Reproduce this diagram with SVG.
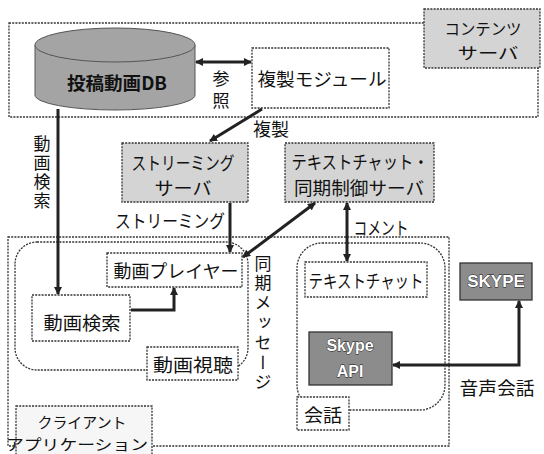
<svg xmlns="http://www.w3.org/2000/svg" width="544" height="454" viewBox="0 0 544 454">
<defs>
<marker id="ah" markerWidth="8" markerHeight="8" refX="7" refY="4" orient="auto-start-reverse" markerUnits="userSpaceOnUse">
<path d="M0,0 L8,4 L0,8 Z" fill="#222"/>
</marker>
<style>
text{font-family:"Noto Sans CJK JP","Noto Sans",sans-serif;font-size:18px;fill:#111;text-anchor:middle;dominant-baseline:central}
.v{writing-mode:vertical-rl;font-size:17px}
.s{font-size:16px}
.xs{font-size:15px}
.dot{fill:none;stroke:#333;stroke-width:1.3;stroke-dasharray:2 1.2}
.box{fill:#fff;stroke:#333;stroke-width:1.3;stroke-dasharray:2 1.2}
.lgray{fill:#d4d4d4;stroke:#333;stroke-width:1.3;stroke-dasharray:2 1.2}
.dgray{fill:#8c8c8c;stroke:#333;stroke-width:1.3}
.arr{fill:none;stroke:#222;stroke-width:3}
.en{font-family:"Liberation Sans",Arial,sans-serif;font-weight:bold;fill:#fff;stroke:#111;stroke-width:0.8;paint-order:stroke}
</style>
</defs>

<g id="content-server">
<rect class="dot" x="9" y="23" width="529" height="94"/>
<rect class="lgray" x="424" y="9" width="116" height="59"/>
<text class="s" x="483" y="28" textLength="77" lengthAdjust="spacingAndGlyphs">コンテンツ</text>
<text class="s" x="488" y="52" textLength="61" lengthAdjust="spacingAndGlyphs">サーバ</text>
</g>

<g id="client-app">
<rect class="dot" x="8" y="237" width="441" height="209"/>
<rect class="box" x="16" y="406" width="136" height="50" style="fill:#f6f6f6"/>
<text class="xs" x="82" y="421" textLength="89" lengthAdjust="spacingAndGlyphs">クライアント</text>
<text class="xs" x="77" y="443" textLength="142" lengthAdjust="spacingAndGlyphs">アプリケーション</text>
</g>

<g id="db">
<path d="M35,45 L35,95 A80,15 0 0 0 195,95 L195,45" fill="#a4a4a4" stroke="#555" stroke-width="1"/>
<ellipse cx="115" cy="45" rx="80" ry="17" fill="#a4a4a4" stroke="#555" stroke-width="1"/>
<text x="117" y="82" style="font-weight:bold" textLength="100" lengthAdjust="spacingAndGlyphs">投稿動画DB</text>
</g>

<g id="replica-module">
<rect class="box" x="252" y="48" width="137" height="60"/>
<text x="322" y="78" textLength="129" lengthAdjust="spacingAndGlyphs">複製モジュール</text>
</g>

<g id="streaming-server">
<rect class="lgray" x="122" y="143" width="126" height="59"/>
<text x="183" y="162" textLength="103" lengthAdjust="spacingAndGlyphs">ストリーミング</text>
<text x="183" y="187" textLength="57" lengthAdjust="spacingAndGlyphs">サーバ</text>
</g>

<g id="sync-server">
<rect class="lgray" x="285" y="143" width="149" height="59"/>
<text x="360" y="161" textLength="137" lengthAdjust="spacingAndGlyphs">テキストチャット・</text>
<text x="359" y="187" textLength="130" lengthAdjust="spacingAndGlyphs">同期制御サーバ</text>
</g>

<g id="viewing">
<rect class="dot" x="15" y="242" width="233" height="128" rx="22" ry="22"/>
<rect class="box" x="147" y="347" width="91" height="33"/>
<text x="193" y="364" textLength="80" lengthAdjust="spacingAndGlyphs">動画視聴</text>
</g>

<g id="player">
<rect class="box" x="107" y="253" width="135" height="34"/>
<text x="176" y="270" textLength="125" lengthAdjust="spacingAndGlyphs">動画プレイヤー</text>
</g>

<g id="search">
<rect class="box" x="32" y="295" width="98" height="46"/>
<text x="82" y="322" textLength="77" lengthAdjust="spacingAndGlyphs">動画検索</text>
</g>

<g id="conversation">
<rect class="dot" x="297" y="243" width="148" height="167" rx="25" ry="25"/>
<rect class="box" x="297" y="397" width="52" height="33"/>
<text x="323" y="414" textLength="38" lengthAdjust="spacingAndGlyphs">会話</text>
</g>

<g id="textchat">
<rect class="box" x="305" y="262" width="122" height="35"/>
<text x="366" y="280" textLength="115" lengthAdjust="spacingAndGlyphs">テキストチャット</text>
</g>

<g id="skype-api">
<rect class="dgray" x="309" y="332" width="83" height="53"/>
<text class="en" x="350" y="345" style="font-size:16px">Skype</text>
<text class="en" x="350" y="371" style="font-size:16px">API</text>
</g>

<g id="skype">
<rect class="dgray" x="460" y="263" width="72" height="37"/>
<text class="en" x="496" y="281" style="font-size:17px">SKYPE</text>
</g>

<g id="connectors">
<line class="arr" x1="196" y1="62" x2="251" y2="62" marker-start="url(#ah)" marker-end="url(#ah)"/>
<line class="arr" x1="262" y1="109" x2="210" y2="141" marker-end="url(#ah)"/>
<line class="arr" x1="58" y1="109" x2="58" y2="294" marker-end="url(#ah)"/>
<line class="arr" x1="230" y1="203" x2="230" y2="252" marker-end="url(#ah)"/>
<polyline class="arr" points="131,310 174,310 174,288" marker-end="url(#ah)"/>
<line class="arr" x1="243" y1="257" x2="315" y2="203" marker-start="url(#ah)" marker-end="url(#ah)"/>
<line class="arr" x1="347" y1="203" x2="347" y2="261" marker-start="url(#ah)" marker-end="url(#ah)"/>
<polyline class="arr" points="393,365 519,365 519,301" marker-start="url(#ah)" marker-end="url(#ah)"/>
</g>

<g id="labels">
<text class="v" x="221" y="92" style="letter-spacing:5px">参照</text>
<text x="271" y="128" textLength="36" lengthAdjust="spacingAndGlyphs">複製</text>
<text class="v" x="42" y="173" style="letter-spacing:2px">動画検索</text>
<text x="170" y="220" textLength="110" lengthAdjust="spacingAndGlyphs">ストリーミング</text>
<text class="v" x="263" y="324" style="letter-spacing:2.8px">同期メッセージ</text>
<text x="381" y="227" textLength="55" lengthAdjust="spacingAndGlyphs">コメント</text>
<text x="497" y="387" textLength="75" lengthAdjust="spacingAndGlyphs">音声会話</text>
</g>
</svg>
